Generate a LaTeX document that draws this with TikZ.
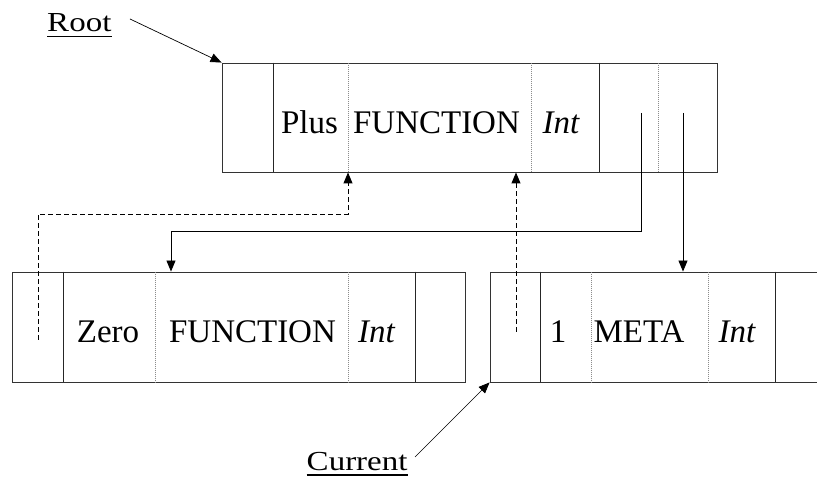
\documentclass[tikz,border=0pt]{standalone}
\usepackage{fontspec}
\setmainfont{Liberation Serif}
\usetikzlibrary{arrows.meta}

\tikzset{
  cellbox/.style={draw=black!80, line width=0.9pt, inner sep=0pt, rectangle},
  divsolid/.style={draw=black!85, line width=0.9pt},
  divdot/.style={draw=black!45, line width=0.9pt, dash pattern=on 1pt off 1pt},
  field/.style={anchor=base, inner sep=0pt, font=\fontsize{33}{40}\selectfont},
  tag/.style={anchor=base west, inner sep=0pt, xscale=1.2, font=\fontsize{27.5}{33}\selectfont},
  uline/.style={line width=1.6pt},
  ptr/.style={line width=0.9pt, -{Triangle[length=11pt,width=9pt]}},
  backptr/.style={ptr, dash pattern=on 5pt off 3pt},
}

\begin{document}
\begin{tikzpicture}[x=1pt, y=-1pt]
\useasboundingbox (0,0) rectangle (817,486);
\clip (0,0) rectangle (817,486);

% records
\node[cellbox, minimum width=495pt, minimum height=109pt] (top) at (469.5,117.5) {};
\node[cellbox, minimum width=453pt, minimum height=110pt] (bl) at (238.5,327) {};
\node[cellbox, minimum width=380pt, minimum height=110pt] (br) at (680,327) {};

% cell dividers
\foreach \x in {273,599} \draw[divsolid] (\x,0 |- top.north) -- (\x,0 |- top.south);
\foreach \x in {348,531,658} \draw[divdot] (\x,0 |- top.north) -- (\x,0 |- top.south);
\foreach \x in {63,415} \draw[divsolid] (\x,0 |- bl.north) -- (\x,0 |- bl.south);
\foreach \x in {155,348} \draw[divdot] (\x,0 |- bl.north) -- (\x,0 |- bl.south);
\foreach \x in {540,775} \draw[divsolid] (\x,0 |- br.north) -- (\x,0 |- br.south);
\foreach \x in {591,708} \draw[divdot] (\x,0 |- br.north) -- (\x,0 |- br.south);

% field contents
\node[field] (tname) at (309.5,133.5) {Plus};
\node[field] (tkind) at (436.5,133.5) {FUNCTION};
\node[field] (ttype) at (561,133.5) {\itshape Int};
\node[field] (lname) at (108,343) {Zero};
\node[field] (lkind) at (252.5,343) {FUNCTION};
\node[field] (ltype) at (376.5,343) {\itshape Int};
\node[field] (rname) at (558,343) {1};
\node[field] (rkind) at (639,343) {META};
\node[field] (rtype) at (737,343) {\itshape Int};

% labels
\node[tag] (rootlbl) at (47,31.7) {Root};
\draw[uline] ([yshift=-5pt]rootlbl.base west) -- ([yshift=-5pt]rootlbl.base east);
\node[tag] (curlbl) at (306.5,470) {Current};
\draw[uline] ([yshift=-5pt]curlbl.base west) -- ([yshift=-5pt]curlbl.base east);

% pointer origins
\coordinate (rootfrom) at (130,19);
\coordinate (curfrom) at (415,457);
\coordinate (p1) at (641,113);
\coordinate (p2) at (683,113);
\coordinate (q1) at (38,340);
\coordinate (q2) at (516,332);

% pointers
\draw[ptr, line width=0.7pt] (rootfrom) -- (top.north west);
\draw[ptr, line width=0.7pt] (curfrom) -- (br.south west);
\draw[ptr] (p1) -- (p1 |- 0,231) -| (171,0 |- bl.north);
\draw[ptr] (p2) -- (p2 |- br.north);
\draw[backptr] (q1) -- (q1 |- 0,214) -| (348,0 |- top.south);
\draw[backptr] (q2) -- (q2 |- top.south);
\end{tikzpicture}
\end{document}
